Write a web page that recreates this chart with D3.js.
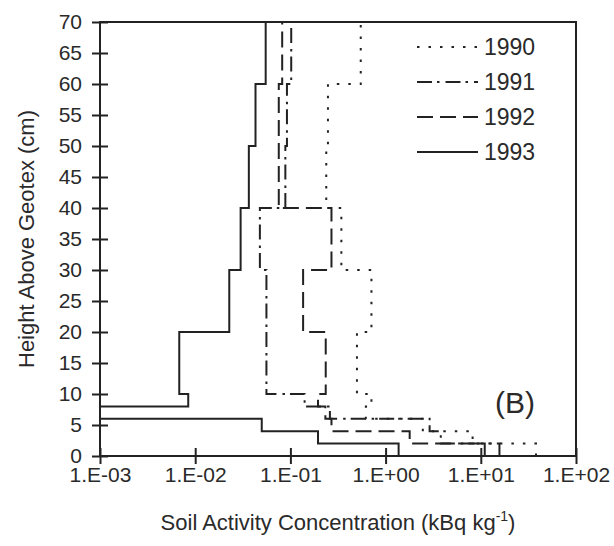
<!DOCTYPE html>
<html>
<head>
<meta charset="utf-8">
<script src="https://cdn.jsdelivr.net/npm/d3@7"></script>
<style>
  body { margin: 0; background: #fff; }
  text { font-family: "Liberation Sans", Arial, sans-serif; fill: #2a2a2a; }
</style>
</head>
<body>
<div id="chart"></div>
<script>
// layer boundaries (cm above geotex) and activity per layer (kBq/kg)
const depths = [0, 2, 4, 6, 8, 10, 20, 30, 40, 50, 60, 70]
const years = ["1990", "1991", "1992", "1993"]
const act1990 = [38, 8.2, 2.46, 0.62, 0.71, 0.50, 0.71, 0.343, 0.238, 0.248, 0.548]
const act1991 = [15.7, 3.8, 2.9, 0.26, 0.141, 0.056, 0.056, 0.0478, 0.0885, 0.092, 0.102]
const act1992 = [11, 1.79, 0.27, 0.233, 0.195, 0.235, 0.136, 0.27, 0.0755, 0.0755, 0.082]
const act1993 = [1.37, 0.195, 0.05, 0.0005, 0.00845, 0.0068, 0.0228, 0.030, 0.0366, 0.043, 0.055]
const xTicks = [1e-3, 1e-2, 1e-1, 1e0, 1e1, 1e2]
const xTickLabels = ["1.E-03", "1.E-02", "1.E-01", "1.E+00", "1.E+01", "1.E+02"]
const yTicks = d3.range(0, 71, 5)

const series = [act1990, act1991, act1992, act1993]
const dashes = ["2.5,9", "15,5,2.5,6", "16,7", null]

const width = 614
const height = 546
const margin = {top: 22, right: 38, bottom: 90, left: 100}

const svg = d3.select("#chart")
    .append("svg")
    .attr("width", width)
    .attr("height", height)

const x = d3.scaleLog()
    .domain([1e-3, 1e2])
    .range([margin.left, width - margin.right])
const y = d3.scaleLinear()
    .domain([0, 70])
    .range([height - margin.bottom, margin.top])

svg.append("clipPath").attr("id", "plot")
    .append("rect")
    .attr("x", margin.left)
    .attr("y", margin.top)
    .attr("width", x.range()[1] - margin.left)
    .attr("height", y.range()[0] - margin.top)

// stair profile: each layer is a vertical segment at its activity
const stairs = vals => {
    const pts = []
    vals.forEach((v, i) => {
        pts.push([v, depths[i]])
        pts.push([v, depths[i + 1]])
    })
    return pts
}
const line = d3.line().x(d => x(d[0])).y(d => y(d[1]))

const layer_lines = svg.append("g").attr("clip-path", "url(#plot)")
series.forEach((vals, i) => {
    layer_lines.append("path")
        .attr("d", line(stairs(vals)))
        .attr("fill", "none")
        .attr("stroke", "#222")
        .attr("stroke-width", 2)
        .attr("stroke-dasharray", dashes[i])
})

// frame
svg.append("rect")
    .attr("x", margin.left)
    .attr("y", margin.top)
    .attr("width", x.range()[1] - margin.left)
    .attr("height", y.range()[0] - margin.top)
    .attr("fill", "none")
    .attr("stroke", "#222")
    .attr("stroke-width", 2)

// x axis
const xAxis = svg.append("g")
    .attr("transform", `translate(0,${y(0)})`)
    .call(d3.axisBottom(x)
        .tickValues(xTicks)
        .tickFormat((d, i) => xTickLabels[i])
        .tickSize(8)
        .tickPadding(3))
xAxis.select(".domain").remove()
xAxis.selectAll(".tick line").attr("y1", -8).attr("stroke", "#222").attr("stroke-width", 2)
xAxis.selectAll(".tick text").attr("font-size", 21).attr("font-family", null)

// y axis
const yAxis = svg.append("g")
    .attr("transform", `translate(${margin.left},0)`)
    .call(d3.axisLeft(y)
        .tickValues(yTicks)
        .tickSize(8)
        .tickPadding(10))
yAxis.select(".domain").remove()
yAxis.selectAll(".tick line").attr("x1", 8).attr("stroke", "#222").attr("stroke-width", 2)
yAxis.selectAll(".tick text").attr("font-size", 21).attr("font-family", null)

// axis titles
const xTitle = svg.append("text")
    .attr("x", (margin.left + x.range()[1]) / 2)
    .attr("y", 530)
    .attr("text-anchor", "middle")
    .attr("font-size", 22)
xTitle.append("tspan").text("Soil Activity Concentration (kBq kg")
xTitle.append("tspan").attr("font-size", 14).attr("dy", -9).text("-1")
xTitle.append("tspan").attr("dy", 9).text(")")

svg.append("text")
    .attr("transform", `translate(34,${(y(0) + y(70)) / 2}) rotate(-90)`)
    .attr("text-anchor", "middle")
    .attr("font-size", 22)
    .text("Height Above Geotex (cm)")

// legend
const legend = svg.append("g")
years.forEach((yr, i) => {
    const ly = 47 + i * 35
    legend.append("line")
        .attr("x1", 417).attr("x2", 478)
        .attr("y1", ly).attr("y2", ly)
        .attr("stroke", "#222")
        .attr("stroke-width", 2)
        .attr("stroke-dasharray", dashes[i])
    legend.append("text")
        .attr("x", 484).attr("y", ly)
        .attr("dy", "0.36em")
        .attr("font-size", 23)
        .text(yr)
})

svg.append("text")
    .attr("x", 495).attr("y", 402)
    .attr("dy", "0.36em")
    .attr("font-size", 30)
    .text("(B)")
</script>
</body>
</html>
